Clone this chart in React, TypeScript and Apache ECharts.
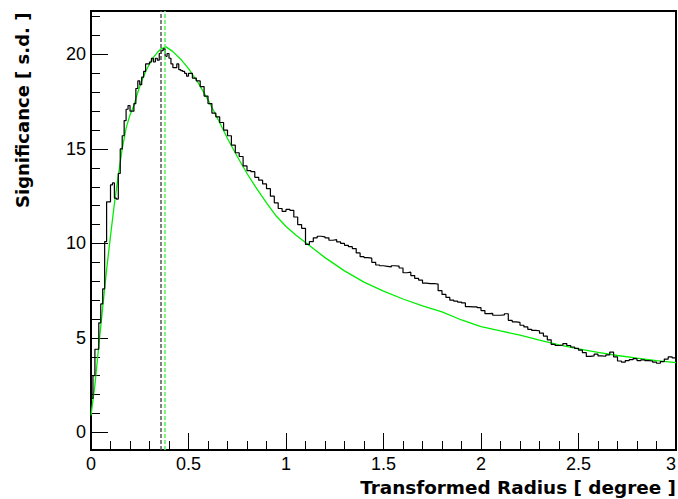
import React, { useEffect, useRef } from "react";
import * as echarts from "echarts";

// Black histogram: fine bins (width 0.01) from 0.00 to 0.50
const riseBinWidth = 0.01;
const riseStart = 0;
const riseValues = [
  1.8, 3.0, 4.4, 4.4, 5.8, 6.8, 7.6, 10.1, 12.2, 12.2,
  13.1, 13.2, 12.4, 12.35, 13.7, 15.0, 15.7, 16.5, 17.1, 17.3,
  17.0, 17.0, 17.4, 18.2, 18.6, 18.4, 18.8, 19.1, 19.5, 19.5,
  19.6, 19.8, 19.6, 19.8, 19.7, 20.05, 20.2, 20.3, 19.9, 20.05,
  19.8, 19.5, 19.3, 19.3, 19.5, 19.2, 19.15, 19.1, 19.0, 18.85,
];

// Black histogram: bins of width 0.02 from 0.50 to 3.00
const tailBinWidth = 0.02;
const tailStart = 0.5;
const tailValues = [
  19.0, 18.75, 18.6, 18.3, 17.8, 17.4, 16.9, 16.7, 16.4, 16.0,
  15.7, 15.2, 14.8, 14.6, 14.1, 13.85, 13.8, 13.5, 13.35, 13.15,
  12.9, 12.5, 12.15, 11.85, 11.7, 11.8, 11.75, 11.4, 11.0, 10.8,
  9.95, 10.1, 10.3, 10.38, 10.35, 10.3, 10.17, 10.2, 10.08, 10.0,
  9.9, 9.83, 9.73, 9.5, 9.3, 9.25, 9.22, 9.0, 8.86, 8.82,
  8.79, 8.76, 8.82, 8.8, 8.7, 8.45, 8.48, 8.3, 8.15, 8.06,
  7.9, 7.87, 7.88, 7.85, 7.5, 7.3, 7.15, 7.0, 6.95, 6.9,
  6.85, 6.66, 6.64, 6.65, 6.6, 6.45, 6.29, 6.3, 6.2, 6.2,
  6.22, 6.28, 5.93, 5.85, 5.82, 5.67, 5.58, 5.45, 5.4, 5.38,
  5.25, 5.1, 4.9, 4.66, 4.6, 4.62, 4.7, 4.6, 4.52, 4.45,
  4.35, 4.22, 4.02, 4.05, 4.14, 4.05, 4.03, 4.1, 4.25, 4.0,
  3.78, 3.72, 3.8, 3.85, 3.9, 3.8, 3.84, 3.8, 3.78, 3.72,
  3.66, 3.75, 3.88, 4.0, 3.95,
];

// Green fitted curve
const greenX = [
  0.0, 0.02, 0.04, 0.06, 0.08, 0.1, 0.12, 0.14, 0.16, 0.18,
  0.2, 0.22, 0.24, 0.26, 0.28, 0.3, 0.32, 0.34, 0.36, 0.385,
  0.42, 0.46, 0.5, 0.55, 0.6, 0.65, 0.7, 0.75, 0.8, 0.85,
  0.9, 0.95, 1.0, 1.05, 1.1, 1.2, 1.3, 1.4, 1.5, 1.6,
  1.7, 1.8, 1.9, 2.0, 2.1, 2.2, 2.3, 2.4, 2.5, 2.6,
  2.7, 2.8, 2.9, 3.0,
];
const greenY = [
  0.9, 2.5, 4.6, 6.6, 8.6, 10.4, 12.1, 13.6, 15.0, 16.1,
  16.8, 17.3, 18.0, 18.6, 19.1, 19.5, 19.85, 20.1, 20.3, 20.4,
  20.15, 19.75, 19.25, 18.5, 17.6, 16.6, 15.55, 14.6, 13.7, 12.9,
  12.15, 11.45, 10.9, 10.45, 10.05, 9.25, 8.55, 7.95, 7.48, 7.06,
  6.7, 6.38, 5.95, 5.6, 5.37, 5.15, 4.88, 4.63, 4.42, 4.24,
  4.07, 3.93, 3.8, 3.69,
];

// Vertical dashed markers (peak positions)
const blackPeakX = 0.364;
const greenPeakX = 0.384;

// Axis ticks
const xMin = 0;
const xMax = 3;
const yMin = -0.93;
const yMax = 22.3;
const yMajorTicks = [0, 5, 10, 15, 20];
const yMinorTicks = [
  0, 1, 2, 3, 4, 5, 6, 7, 8, 9, 10, 11, 12, 13, 14, 15, 16, 17, 18, 19, 20, 21, 22,
];

const xTitle = "Transformed Radius [ degree ]";
const yTitle = "Significance [ s.d. ]";

function buildHist(): [number, number][] {
  const pts: [number, number][] = [];
  riseValues.forEach((v, i) => {
    pts.push([+(riseStart + i * riseBinWidth).toFixed(4), v]);
  });
  tailValues.forEach((v, i) => {
    pts.push([+(tailStart + i * tailBinWidth).toFixed(4), v]);
  });
  pts.push([xMax, tailValues[tailValues.length - 1]]);
  return pts;
}

export default function App() {
  const ref = useRef<HTMLDivElement>(null);

  useEffect(() => {
    if (!ref.current) return;
    const chart = echarts.init(ref.current, undefined, { renderer: "svg" });
    const labelFont = { fontFamily: "Liberation Sans", fontSize: 18, color: "#000" };
    const titleStyle = {
      fontFamily: "DejaVu Sans",
      fontWeight: "bold",
      fill: "#000",
    };

    chart.setOption({
      animation: false,
      backgroundColor: "#fff",
      grid: {
        left: 91,
        right: 2,
        top: 11,
        bottom: 49,
        outerBoundsMode: "none",
        containLabel: false,
        show: true,
        borderColor: "#000",
        borderWidth: 2,
        backgroundColor: "transparent",
      },
      xAxis: {
        type: "value",
        min: xMin,
        max: xMax,
        interval: 0.5,
        axisLine: { show: true, onZero: false, lineStyle: { color: "#000", width: 2 } },
        axisTick: { show: true, inside: true, length: 17, lineStyle: { color: "#000", width: 1 } },
        minorTick: { show: true, splitNumber: 5, length: 9, lineStyle: { color: "#000", width: 1 } },
        axisLabel: {
          ...labelFont,
          margin: 5,
          showMaxLabel: true,
          showMinLabel: true,
          alignMaxLabel: "right",
        },
        splitLine: { show: false },
      },
      yAxis: [
        {
          type: "value",
          min: yMin,
          max: yMax,
          axisLine: { show: true, onZero: false, lineStyle: { color: "#000", width: 2 } },
          axisTick: {
            show: true,
            inside: true,
            length: 17,
            customValues: yMajorTicks,
            lineStyle: { color: "#000", width: 1 },
          },
          axisLabel: { ...labelFont, margin: 5, customValues: yMajorTicks },
          splitLine: { show: false },
        },
        {
          type: "value",
          min: yMin,
          max: yMax,
          position: "left",
          axisLine: { show: false, onZero: false },
          axisTick: {
            show: true,
            inside: true,
            length: 9,
            customValues: yMinorTicks,
            lineStyle: { color: "#000", width: 1 },
          },
          axisLabel: { show: false },
          splitLine: { show: false },
        },
      ],
      graphic: [
        {
          type: "text",
          x: 676,
          y: 487,
          style: {
            text: xTitle,
            ...titleStyle,
            fontSize: 18.4,
            align: "right",
            verticalAlign: "middle",
          },
        },
        {
          type: "text",
          x: 22,
          y: 208,
          rotation: Math.PI / 2,
          style: {
            text: yTitle,
            ...titleStyle,
            fontSize: 18,
            align: "left",
            verticalAlign: "middle",
          },
        },
      ],
      series: [
        {
          type: "line",
          name: "fit",
          data: greenX.map((x, i) => [x, greenY[i]]),
          symbol: "none",
          lineStyle: { color: "#00ee00", width: 1.3 },
          markLine: {
            silent: true,
            symbol: ["none", "none"],
            label: { show: false },
            data: [
              { xAxis: greenPeakX, lineStyle: { color: "#55ee55", width: 1.5, type: [4, 2] } },
              { xAxis: blackPeakX, lineStyle: { color: "#555", width: 1.5, type: [4, 2] } },
            ],
          },
        },
        {
          type: "line",
          name: "significance",
          step: "end",
          data: buildHist(),
          symbol: "none",
          lineStyle: { color: "#000", width: 1.2 },
        },
      ],
    });
    return () => chart.dispose();
  }, []);

  return <div ref={ref} style={{ width: 678, height: 499, position: "absolute", left: 0, top: 0 }} />;
}
